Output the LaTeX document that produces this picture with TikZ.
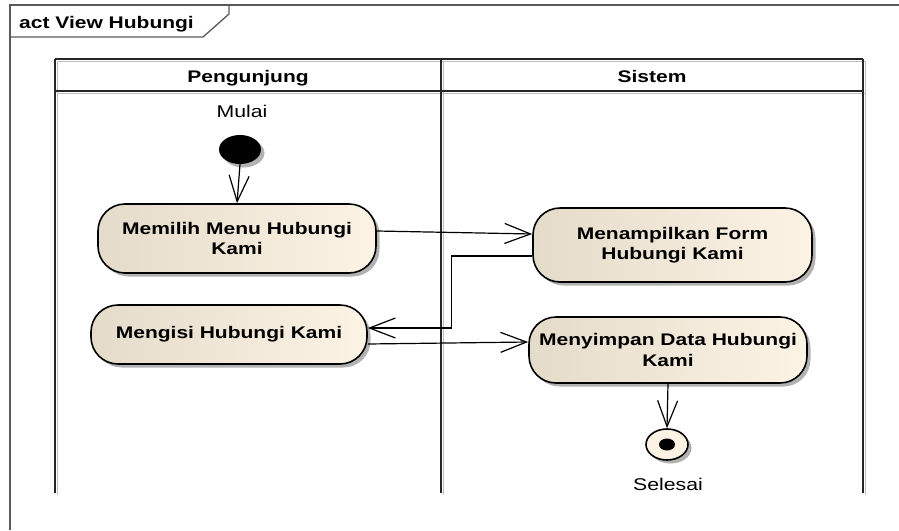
\documentclass[tikz,border=0pt]{standalone}
\usepackage{fontspec}
\setmainfont{Liberation Sans}[FakeStretch=1.25]
\usetikzlibrary{arrows.meta,shapes.geometric,shadows}

\definecolor{actL}{RGB}{229,219,202}
\definecolor{actR}{RGB}{252,243,229}
\definecolor{frameline}{RGB}{90,90,90}

\tikzset{
  boldlbl/.style={font=\bfseries\fontsize{16.8}{20.5}\selectfont},
  plainlbl/.style={font=\fontsize{17}{20}\selectfont},
  softshadow/.style={drop shadow={shadow xshift=3.5pt,shadow yshift=-3.5pt,fill=black!30,opacity=1}},
  action/.style={draw=black, line width=1.6pt, rounded corners=27pt,
    left color=actL, right color=actR, softshadow,
    align=center, boldlbl, inner sep=0pt},
  flow/.style={line width=1.2pt, -{Straight Barb[length=26pt,width=20pt,line width=1.2pt]}},
  lane/.style={line width=2.6pt, draw=black!85},
  laneshade/.style={line width=1.6pt, draw=black!25},
}

\begin{document}
\begin{tikzpicture}[x=1pt,y=-1pt]
\useasboundingbox (0,0) rectangle (899,530);

% diagram frame and its name tab
\draw[frameline, line width=1.3pt] (899,5) -- (10,5) -- (10,530);
\draw[frameline, line width=1.3pt] (10,37) -- (203,37) -- (229,14) -- (229,5);
\node[boldlbl, anchor=base west, inner sep=0pt] (title) at (19,28) {act View Hubungi};

% swimlanes
\foreach \x in {57.5,443.5,865.5} \draw[laneshade] (\x,61) -- (\x,495);
\draw[laneshade] (57,61.5) -- (865,61.5);
\draw[laneshade] (57,93.5) -- (865,93.5);
\draw[lane] (55,59) -- (863,59);
\draw[lane] (55,91) -- (863,91);
\foreach \x in {55,441,863} \draw[lane] (\x,59) -- (\x,493);
\node[boldlbl, anchor=base] (lane1) at (248,82) {Pengunjung};
\node[boldlbl, anchor=base] (lane2) at (652,82) {Sistem};

% initial node
\node[plainlbl, anchor=base] (mulai) at (242,117) {Mulai};
\node[ellipse, fill=black, minimum width=42pt, minimum height=29pt, inner sep=0pt,
      softshadow] (start) at (240,149.5) {};

% actions
\node[action, minimum width=278pt, minimum height=69pt] (a1) at (237,238.5) {Memilih Menu Hubungi\\Kami};
\node[action, minimum width=276pt, minimum height=59pt] (a2) at (229,334.5) {Mengisi Hubungi Kami};
\node[action, minimum width=279pt, minimum height=74pt] (a3) at (672.5,245) {Menampilkan Form\\Hubungi Kami};
\node[action, minimum width=278pt, minimum height=66pt] (a4) at (668,350) {Menyimpan Data Hubungi\\Kami};

% final node
\node[ellipse, draw=black, line width=1.6pt, fill=actR, minimum width=42pt, minimum height=31pt,
      inner sep=0pt, softshadow] (final) at (667,444.5) {};
\node[ellipse, fill=black, minimum width=16pt, minimum height=12pt, inner sep=0pt] (finaldot) at (final.center) {};
\node[plainlbl, anchor=base] (selesai) at (668,490) {Selesai};

% control flows
\draw[flow] (start.south) -- (a1.north);
\draw[flow] ([shift={(0,-7.5)}]a1.east) -- ([shift={(0,-11)}]a3.west);
\draw[flow] ([shift={(0,11)}]a3.west) -- ++(-81,0) |- ([shift={(0,-6.5)}]a2.east);
\draw[flow] ([shift={(0,9.5)}]a2.east) -- ([shift={(0,-8)}]a4.west);
\draw[flow] (a4.south) -- (final.north);
\end{tikzpicture}
\end{document}
